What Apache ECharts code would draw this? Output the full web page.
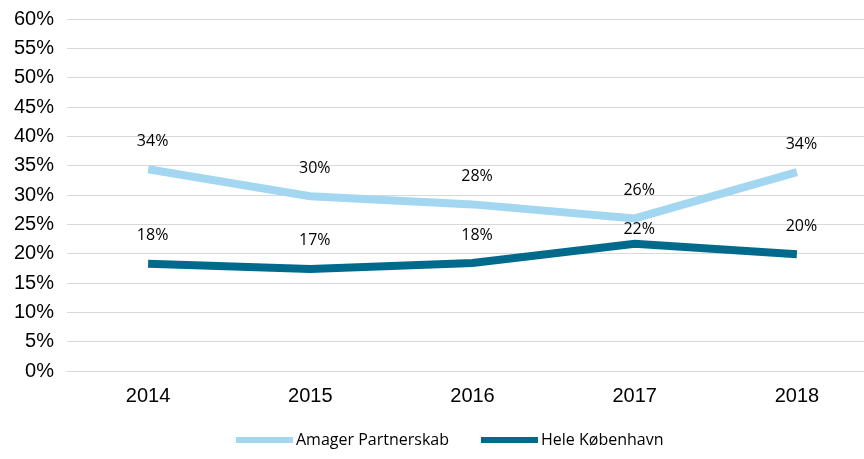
<!DOCTYPE html>
<html>
<head>
<meta charset="utf-8">
<script src="https://cdn.jsdelivr.net/npm/echarts@6/dist/echarts.min.js"></script>
<style>
  html, body { margin: 0; padding: 0; background: #fff; }
  #chart { width: 864px; height: 459px; }
</style>
</head>
<body>
<div id="chart"></div>
<script>
const years = ["2014", "2015", "2016", "2017", "2018"];
const amager = [34.4, 29.8, 28.4, 26.0, 33.9];
const heleKbh = [18.3, 17.4, 18.4, 21.7, 19.9];

const labelFont = "'Open Sans', 'Liberation Sans', sans-serif";

const chart = echarts.init(document.getElementById("chart"));

// labels that were pulled closer to the line in the original
const labelNudge = { "Hele København": { 3: 6 } };

const lineSeries = (name, data, color) => ({
  name: name,
  type: "line",
  data: data.map((v, i) => {
    const dist = (labelNudge[name] || {})[i];
    return dist !== undefined ? { value: v, label: { distance: dist } } : v;
  }),
  symbol: "circle",
  symbolSize: 0,
  showSymbol: true,
  lineStyle: { width: 8, color: color, join: "miter" },
  itemStyle: { color: color },
  label: {
    show: true,
    position: "top",
    distance: 20,
    padding: [0, 0, 0, 9],
    color: "#000",
    fontSize: 16,
    fontFamily: labelFont,
    formatter: (p) => Math.round(p.value) + "%",
  },
  labelLayout: { hideOverlap: false },
  emphasis: { disabled: true },
  animation: false,
});

chart.setOption({
  backgroundColor: "#fff",
  grid: {
    left: 67,
    top: 19,
    width: 811,
    height: 352,
    containLabel: false,
    outerBoundsMode: "none",
  },
  xAxis: {
    type: "category",
    data: years,
    boundaryGap: true,
    axisTick: { show: false },
    axisLine: { show: true, lineStyle: { color: "#d9d9d9", width: 1 } },
    axisLabel: {
      color: "#000",
      fontSize: 20,
      fontFamily: "'Liberation Sans', Arial, sans-serif",
      margin: 15,
    },
  },
  yAxis: {
    type: "value",
    min: 0,
    max: 60,
    interval: 5,
    axisLine: { show: false },
    axisTick: { show: false },
    splitLine: { lineStyle: { color: "#d9d9d9", width: 1 } },
    axisLabel: {
      color: "#000",
      fontSize: 20,
      fontFamily: "'Liberation Sans', Arial, sans-serif",
      margin: 13,
      formatter: "{value}%",
    },
  },
  legend: {
    bottom: 6,
    left: 231,
    itemWidth: 57,
    itemHeight: 6,
    itemGap: 32,
    icon: "rect",
    textStyle: { color: "#000", fontSize: 16, fontFamily: labelFont, padding: [0, 0, 0, -2] },
    data: ["Amager Partnerskab", "Hele København"],
  },
  series: [
    lineSeries("Amager Partnerskab", amager, "#a3d6f0"),
    lineSeries("Hele København", heleKbh, "#006a8c"),
  ],
});
</script>
</body>
</html>
